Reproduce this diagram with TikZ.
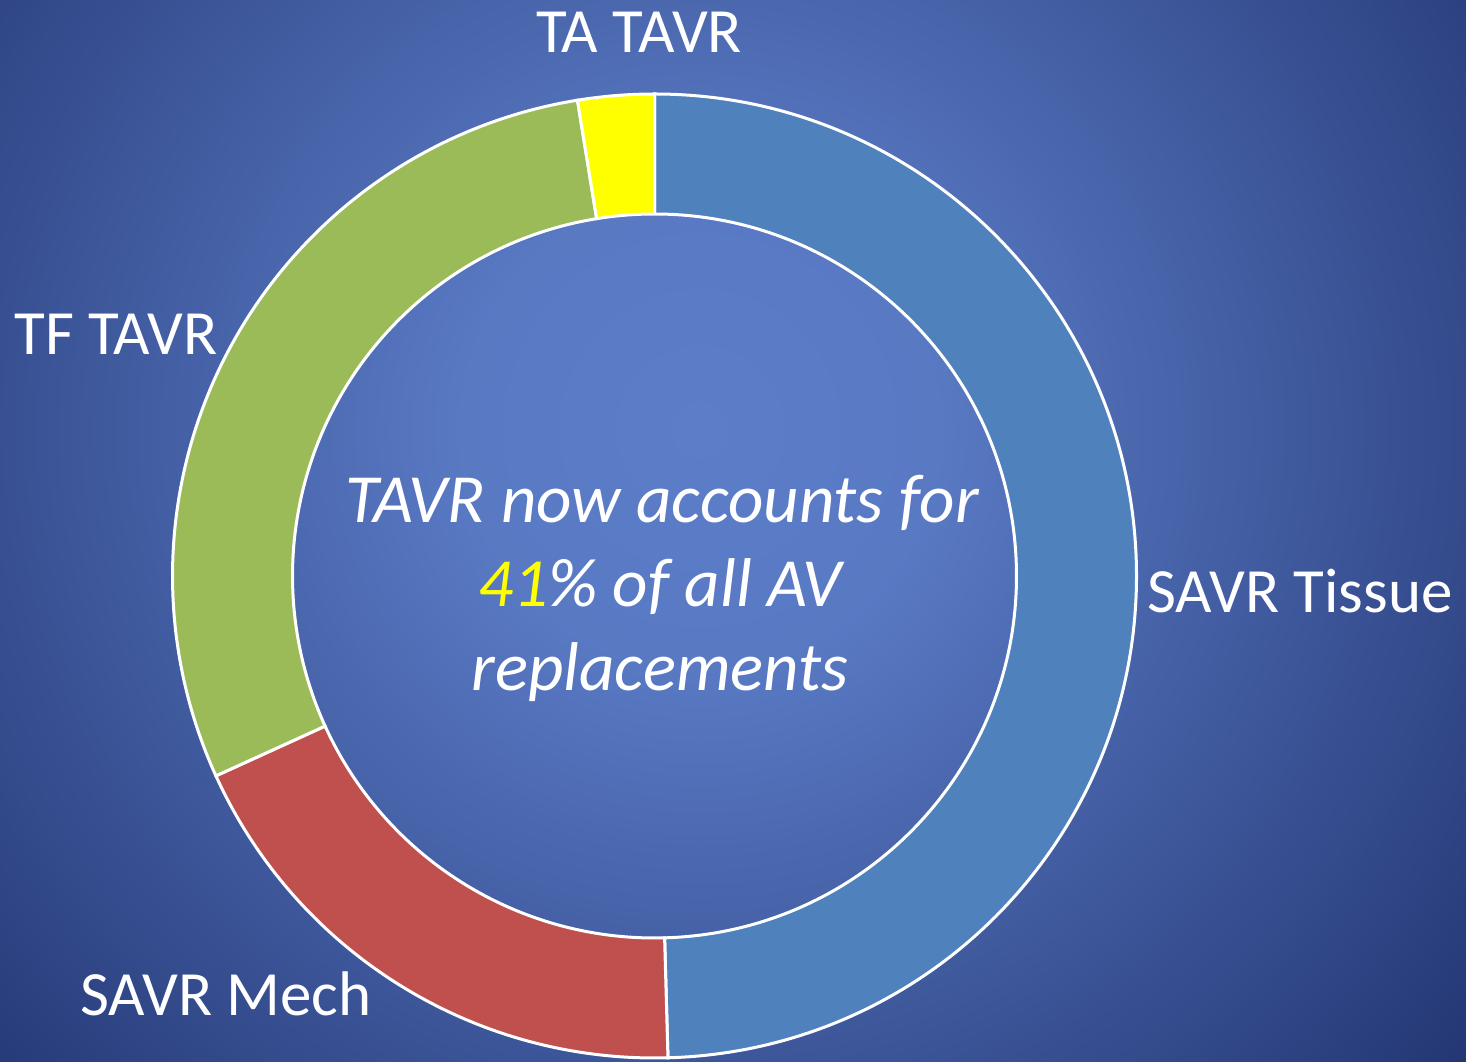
\documentclass[tikz,border=0pt]{standalone}
\usepackage{fontspec}
\setmainfont{Carlito}
\definecolor{bgLight}{HTML}{5C7DC8}
\definecolor{bgDark}{HTML}{233673}
\definecolor{tissueBlue}{HTML}{4F81BD}
\definecolor{mechRed}{HTML}{C0504D}
\definecolor{tfGreen}{HTML}{9BBB59}
\definecolor{taYellow}{HTML}{FFFF00}
\pgfdeclareradialshading{bgglow}{\pgfpoint{0bp}{0bp}}{color(0bp)=(bgLight); color(6bp)=(bgLight!94!bgDark); color(25bp)=(bgDark); color(50bp)=(bgDark)}
% one ring segment: start angle, end angle, colour
\newcommand{\ringslice}[3]{%
  \draw[slice=#3] (#1:482) arc (#1:#2:482) -- (#2:362) arc (#2:#1:362) -- cycle;}
\begin{document}
\begin{tikzpicture}[x=1pt,y=1pt,
  slice/.style={fill=#1, draw=white, line width=3},
  slicetext/.style={text=white, font=\fontsize{63}{75}\selectfont, anchor=base, inner sep=0pt},
  centertext/.style={text=white, font=\fontsize{69}{83}\selectfont\itshape, anchor=base, inner sep=0pt}]
\useasboundingbox (0,0) rectangle (1466,1061);
\clip (0,0) rectangle (1466,1061);
\shade[shading=bgglow] (-300,-369) rectangle (1700,1631);
\begin{scope}[shift={(654.5,485)}]
\ringslice{90}{-88.4}{tissueBlue}
\ringslice{271.6}{204.5}{mechRed}
\ringslice{204.5}{99.2}{tfGreen}
\ringslice{99.2}{90}{taYellow}
\end{scope}
\node[slicetext] (taTavr) at (639,1008) {TA TAVR};
\node[slicetext] (tfTavr) at (116,706) {TF TAVR};
\node[slicetext] (savrTissue) at (1300,448) {SAVR Tissue};
\node[slicetext] (savrMech) at (226,46) {SAVR Mech};
\node[centertext] (tavrNow) at (662,538) {TAVR now accounts for};
\node[centertext] (tavrShare) at (660,454) {{\color{taYellow}41}\% of all AV};
\node[centertext] (tavrRepl) at (660,371) {replacements};
\end{tikzpicture}
\end{document}
